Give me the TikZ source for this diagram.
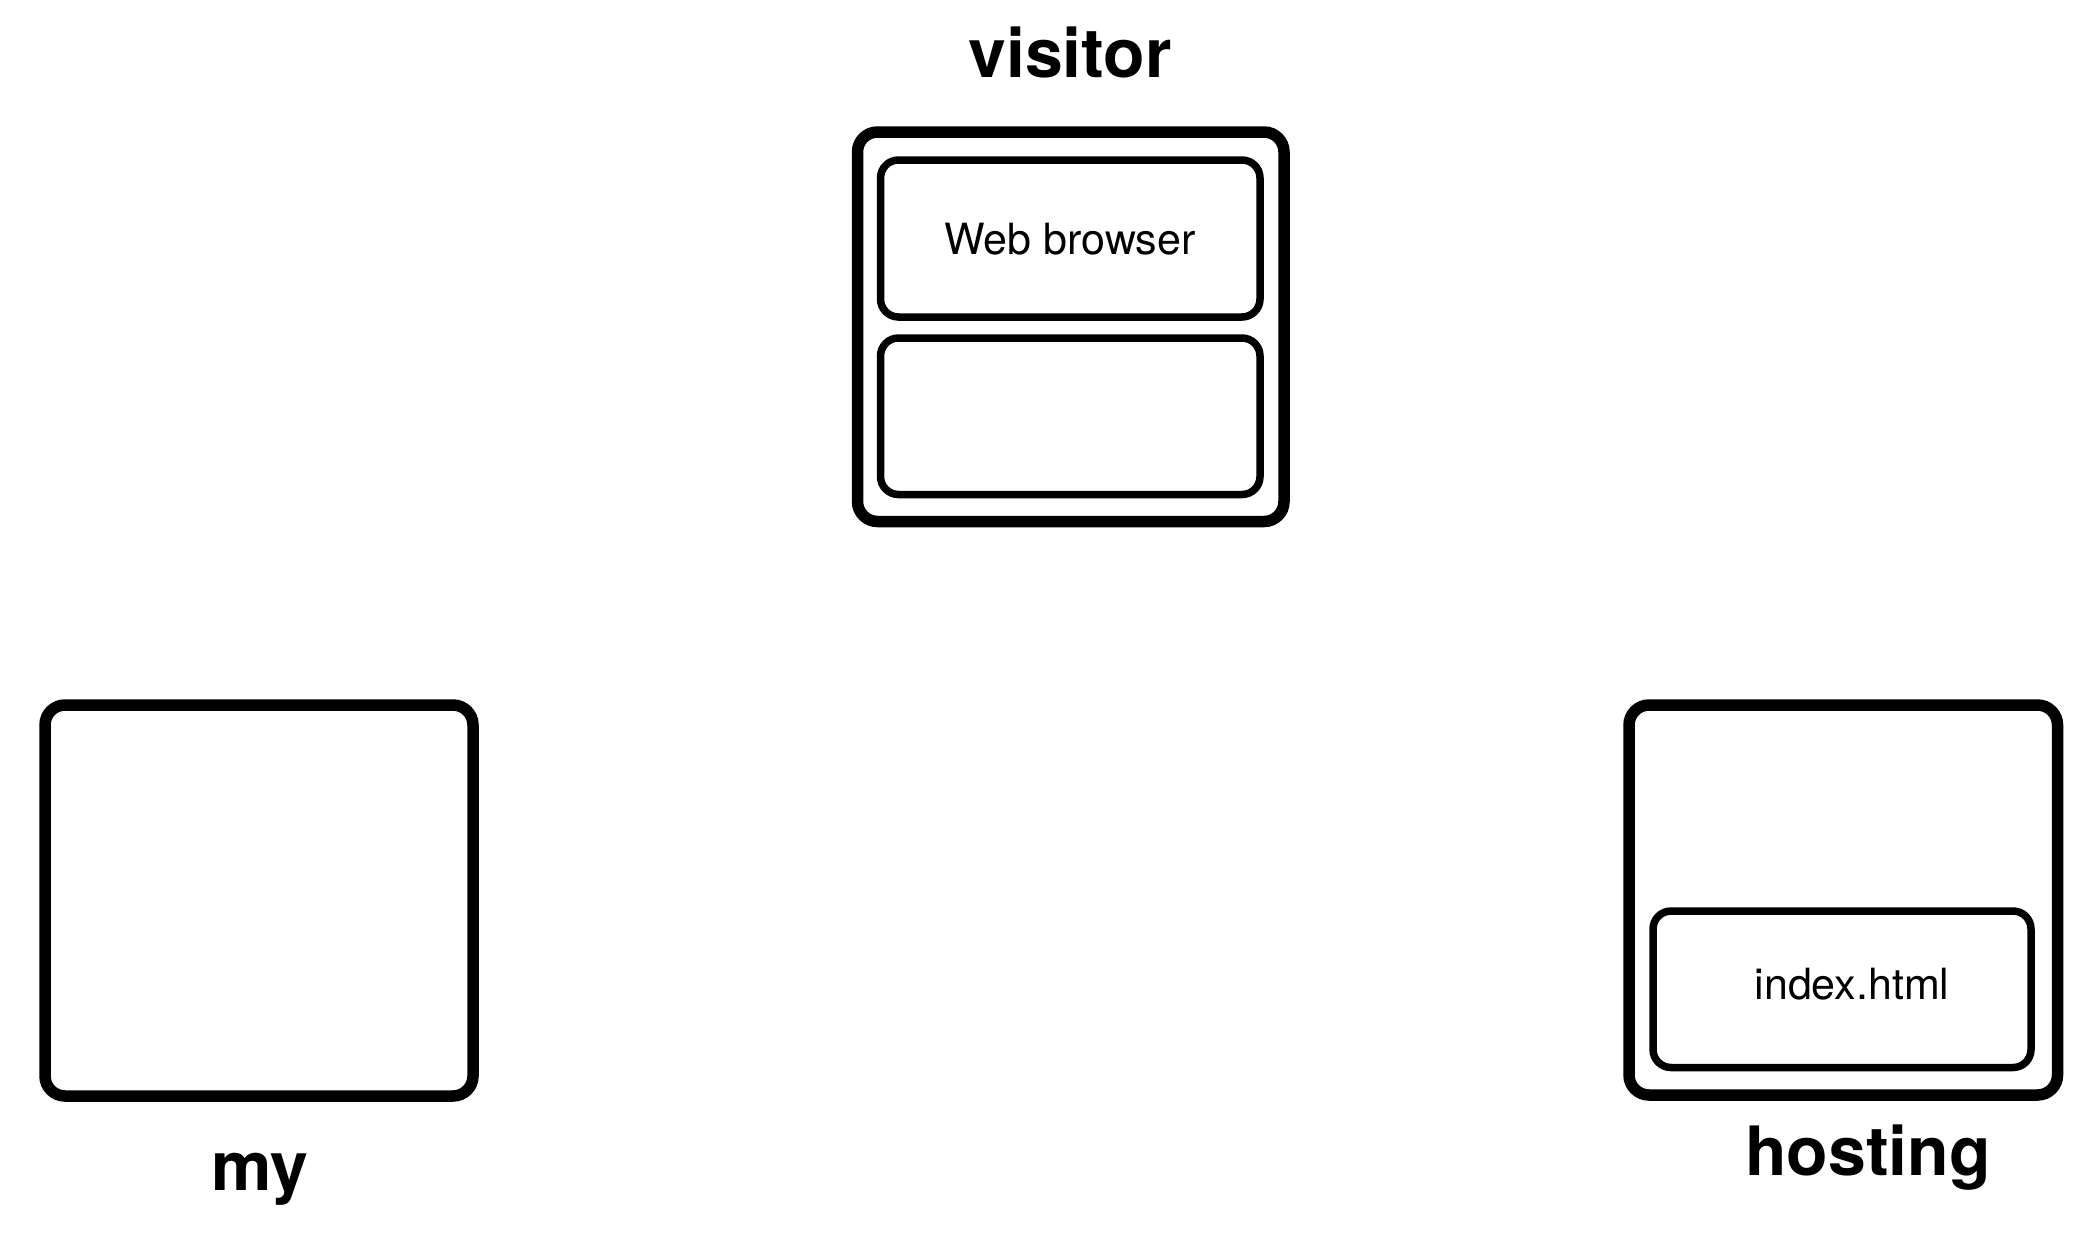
\documentclass[tikz,border=0pt]{standalone}
\usepackage{fontspec}
\setmainfont{TeX Gyre Heros}
\begin{document}
\begin{tikzpicture}[x=1pt,y=-1pt,
  outerbox/.style={draw=black,line width=11.5pt,rounded corners=20pt,inner sep=0pt,outer sep=0pt,fill=white},
  innerbox/.style={draw=black,line width=7.5pt,rounded corners=18pt,inner sep=0pt,outer sep=0pt},
  biglabel/.style={anchor=base,inner sep=0pt,font=\fontsize{68}{80}\selectfont\bfseries},
  smalllabel/.style={anchor=base,inner sep=0pt,font=\fontsize{43}{50}\selectfont}]
\useasboundingbox (0,0) rectangle (2095,1235);
\fill[white] (0,0) rectangle (2095,1235);
% visitor
\node[outerbox,minimum width=426.5pt,minimum height=389.5pt] (visitor) at (1070.75,326.75) {};
\node[innerbox,minimum width=379.5pt,minimum height=157pt] (browser) at (1070.25,238.5) {};
\node[innerbox,minimum width=379.5pt,minimum height=156.5pt] (empty) at (1070.25,416.25) {};
\node[smalllabel] (browsertxt) at (1070,254) {Web browser};
\node[biglabel] (visitortxt) at (1070,77) {visitor};
% my
\node[outerbox,minimum width=428pt,minimum height=391pt] (my) at (259,900.5) {};
\node[biglabel] (mytxt) at (260,1190) {my};
% hosting
\node[outerbox,minimum width=428.5pt,minimum height=390pt] (hosting) at (1843.25,900) {};
\node[innerbox,minimum width=378pt,minimum height=156.5pt] (index) at (1842,989.25) {};
\node[smalllabel] (indextxt) at (1852,999) {index.html};
\node[biglabel] (hostingtxt) at (1868,1175) {hosting};
\end{tikzpicture}
\end{document}
